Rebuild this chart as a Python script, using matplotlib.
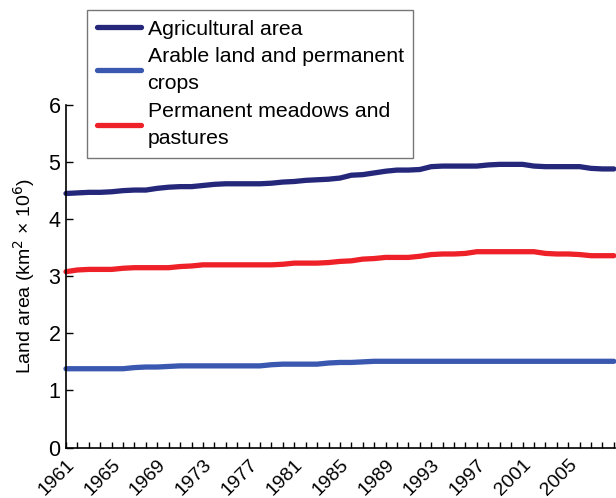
import matplotlib
matplotlib.use("Agg")
import matplotlib.pyplot as plt
from matplotlib.ticker import MultipleLocator, FixedLocator

years = list(range(1961, 2010))
agricultural = [4.45, 4.46, 4.47, 4.47, 4.48, 4.50, 4.51, 4.51, 4.54, 4.56,
                4.57, 4.57, 4.59, 4.61, 4.62, 4.62, 4.62, 4.62, 4.63, 4.65,
                4.66, 4.68, 4.69, 4.70, 4.72, 4.77, 4.78, 4.81, 4.84, 4.86,
                4.86, 4.87, 4.92, 4.93, 4.93, 4.93, 4.93, 4.95, 4.96, 4.96,
                4.96, 4.93, 4.92, 4.92, 4.92, 4.92, 4.89, 4.88, 4.88]
arable = [1.38, 1.38, 1.38, 1.38, 1.38, 1.38, 1.40, 1.41, 1.41, 1.42,
          1.43, 1.43, 1.43, 1.43, 1.43, 1.43, 1.43, 1.43, 1.45, 1.46,
          1.46, 1.46, 1.46, 1.48, 1.49, 1.49, 1.50, 1.51, 1.51, 1.51,
          1.51, 1.51, 1.51, 1.51, 1.51, 1.51, 1.51, 1.51, 1.51, 1.51,
          1.51, 1.51, 1.51, 1.51, 1.51, 1.51, 1.51, 1.51, 1.51]
pastures = [3.08, 3.11, 3.12, 3.12, 3.12, 3.14, 3.15, 3.15, 3.15, 3.15,
            3.17, 3.18, 3.20, 3.20, 3.20, 3.20, 3.20, 3.20, 3.20, 3.21,
            3.23, 3.23, 3.23, 3.24, 3.26, 3.27, 3.30, 3.31, 3.33, 3.33,
            3.33, 3.35, 3.38, 3.39, 3.39, 3.40, 3.43, 3.43, 3.43, 3.43,
            3.43, 3.43, 3.40, 3.39, 3.39, 3.38, 3.36, 3.36, 3.36]
series_labels = ["Agricultural area", "Arable land and permanent\ncrops",
                 "Permanent meadows and\npastures"]
tick_years = list(range(1961, 2009, 4))
y_ticks = [0, 1, 2, 3, 4, 5, 6]

plt.rcParams['font.family'] = ['Liberation Sans', 'DejaVu Sans']

fig = plt.figure(figsize=(6.16, 4.98), dpi=100)
ax = fig.add_axes([66/616, 1-447.5/498, (615-66)/616, (447.5-105)/498])

colors = ["#25287a", "#3a58b0", "#ee2129"]
for vals, lab, c in zip([agricultural, arable, pastures], series_labels, colors):
    ax.plot(years, vals, color=c, lw=3.8, solid_capstyle='round', label=lab, clip_on=False)

ax.set_xlim(1961, 2009.1)
ax.set_ylim(0, 6)
ax.xaxis.set_major_locator(FixedLocator(tick_years))
ax.xaxis.set_minor_locator(MultipleLocator(1))
ax.set_xticklabels([str(y) for y in tick_years], rotation=45, ha='right',
                   rotation_mode='anchor', fontsize=14)
ax.set_yticks(y_ticks)
ax.set_yticklabels([str(v) for v in y_ticks], fontsize=15.5)
ax.tick_params(axis='x', which='both', direction='in', length=4, width=1, pad=6)
ax.tick_params(axis='y', direction='in', length=5, width=1, pad=4)
for s in ['top', 'right']:
    ax.spines[s].set_visible(False)
for s in ['left', 'bottom']:
    ax.spines[s].set_linewidth(1.2)
ax.set_ylabel("Land area (km$^2$ × 10$^6$)", fontsize=14, labelpad=8)

leg = fig.legend(loc='upper left', bbox_to_anchor=(87/616, 1-10/498),
                 fontsize=15.3, frameon=True, fancybox=False, handlelength=2.1,
                 handletextpad=0.3, borderpad=0.45, labelspacing=0.4,
                 borderaxespad=0)
for t in leg.get_texts():
    t.set_linespacing(1.55)
leg.get_frame().set_edgecolor('#555555')
leg.get_frame().set_linewidth(1.0)

fig.savefig("out.png", dpi=100)
